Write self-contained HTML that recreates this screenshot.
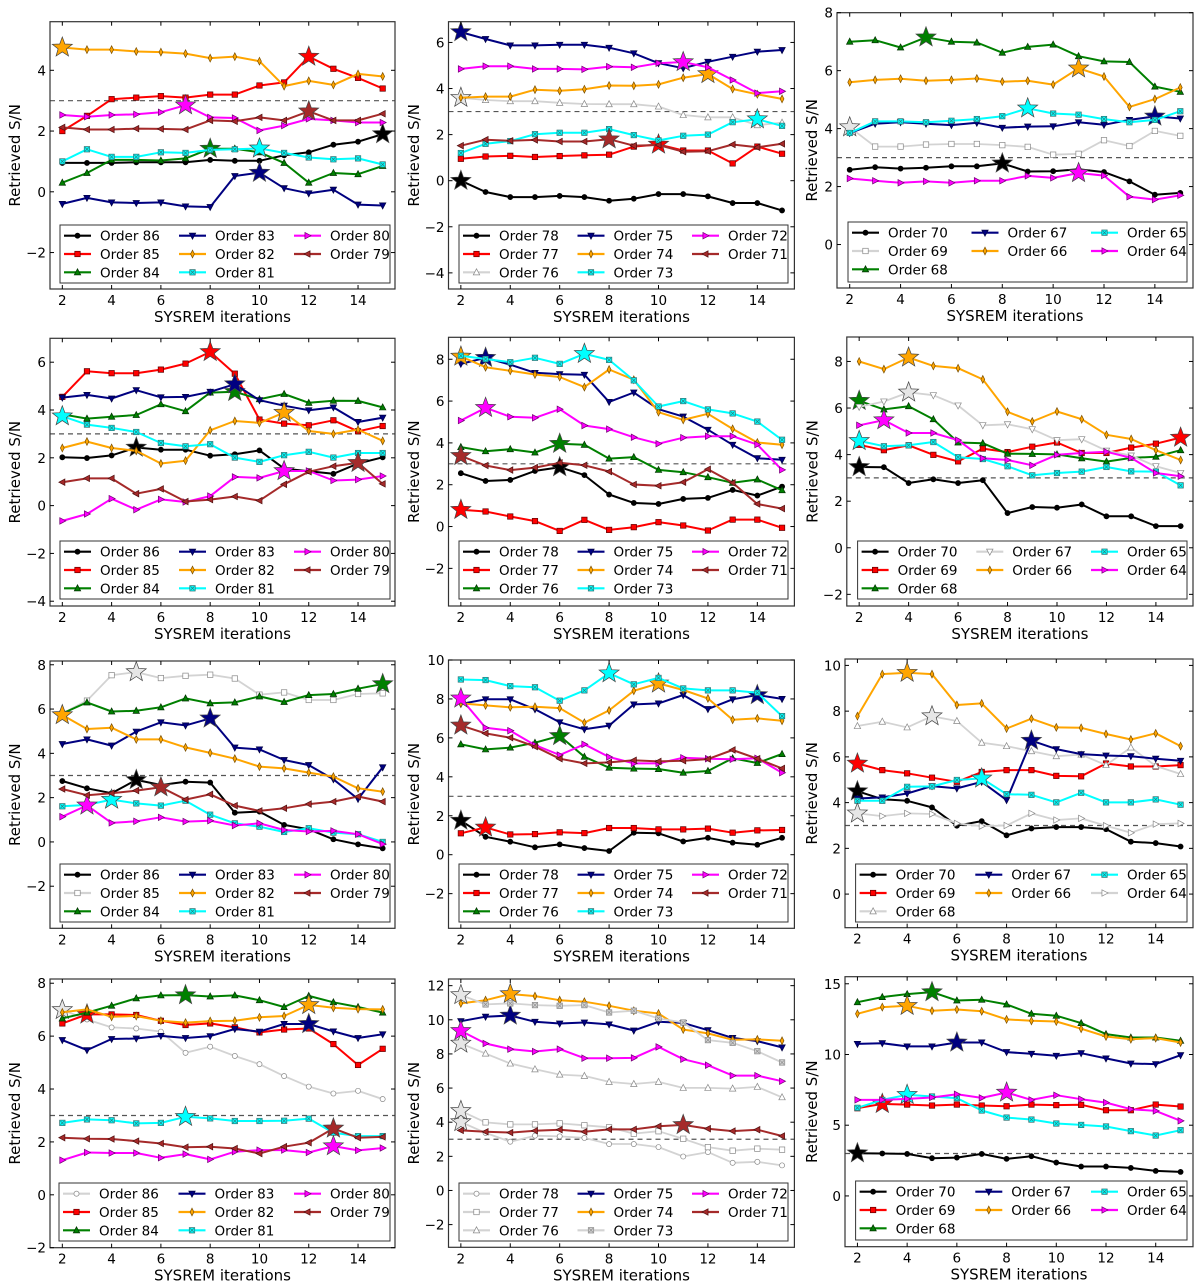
<!DOCTYPE html>
<html><head><meta charset="utf-8">
<style>
html,body{margin:0;padding:0;background:#fff;}
svg{display:block;font-family:"DejaVu Sans","Liberation Sans",sans-serif;}
</style></head>
<body>
<svg id="fig" width="1200" height="1284" viewBox="0 0 1200 1284" xmlns="http://www.w3.org/2000/svg"></svg>
<script>
// ---- Data (x = SYSREM iterations 2..15) ----
const iterations = [2,3,4,5,6,7,8,9,10,11,12,13,14,15];

// Panel 1
const p1_labels = ['Order 86','Order 85','Order 84','Order 83','Order 82','Order 81','Order 80','Order 79'];
const p1_o86 = [0.95,0.95,0.95,0.97,0.97,0.97,1.05,1.02,1.02,1.2,1.3,1.55,1.65,1.9];
const p1_o85 = [2.0,2.5,3.05,3.1,3.15,3.1,3.2,3.2,3.5,3.6,4.45,4.05,3.75,3.4];
const p1_o84 = [0.3,0.62,1.05,1.05,1.03,1.1,1.42,1.42,1.3,0.95,0.3,0.62,0.58,0.85];
const p1_o83 = [-0.4,-0.2,-0.35,-0.37,-0.35,-0.48,-0.5,0.52,0.63,0.12,-0.05,0.07,-0.42,-0.45];
const p1_o82 = [4.75,4.68,4.68,4.62,4.6,4.55,4.4,4.45,4.3,3.48,3.65,3.52,3.88,3.8];
const p1_o81 = [1.0,1.4,1.15,1.15,1.3,1.28,1.38,1.4,1.43,1.28,1.13,1.07,1.1,0.9];
const p1_o80 = [2.53,2.47,2.53,2.55,2.62,2.85,2.45,2.43,2.02,2.18,2.4,2.35,2.28,2.28];
const p1_o79 = [2.12,2.05,2.05,2.08,2.07,2.05,2.35,2.32,2.45,2.35,2.65,2.35,2.35,2.57];
const p1_star = [15,12,8,10,2,10,7,12];

// Panel 2
const p2_labels = ['Order 78','Order 77','Order 76','Order 75','Order 74','Order 73','Order 72','Order 71'];
const p2_o78 = [0,-0.49,-0.71,-0.71,-0.66,-0.71,-0.87,-0.78,-0.58,-0.58,-0.68,-0.97,-0.97,-1.29];
const p2_o77 = [0.95,1.05,1.08,1.03,1.07,1.1,1.13,1.48,1.57,1.31,1.31,0.75,1.48,1.17];
const p2_o76 = [3.6,3.5,3.45,3.45,3.38,3.33,3.32,3.32,3.22,2.85,2.75,2.75,2.41,2.52];
const p2_o75 = [6.45,6.15,5.87,5.87,5.9,5.9,5.77,5.53,5.1,4.88,5.16,5.38,5.6,5.67];
const p2_o74 = [3.6,3.65,3.65,3.95,3.9,3.97,4.13,4.12,4.18,4.47,4.63,3.98,3.75,3.55];
const p2_o73 = [1.2,1.6,1.72,2.02,2.08,2.08,2.24,1.98,1.75,1.95,2.0,2.54,2.67,2.38];
const p2_o72 = [4.85,4.97,4.97,4.85,4.85,4.83,4.95,4.92,5.1,5.15,4.92,4.37,3.8,3.88];
const p2_o71 = [1.52,1.78,1.73,1.77,1.7,1.7,1.8,1.52,1.55,1.26,1.28,1.57,1.45,1.6];
const p2_star = [2,10,2,2,12,14,11,8];

// Panel 3
const p3_labels = ['Order 70','Order 69','Order 68','Order 67','Order 66','Order 65','Order 64'];
const p3_o70 = [2.58,2.67,2.62,2.65,2.7,2.7,2.8,2.52,2.53,2.6,2.5,2.18,1.72,1.78];
const p3_o69 = [4.05,3.38,3.38,3.45,3.47,3.47,3.43,3.37,3.1,3.13,3.6,3.4,3.92,3.75];
const p3_o68 = [7.0,7.05,6.8,7.15,7.0,6.97,6.62,6.82,6.9,6.5,6.32,6.3,5.45,5.27];
const p3_o67 = [3.85,4.17,4.22,4.17,4.12,4.2,4.03,4.07,4.08,4.22,4.13,4.3,4.42,4.35];
const p3_o66 = [5.6,5.68,5.72,5.65,5.68,5.73,5.62,5.65,5.52,6.08,5.8,4.75,5.02,5.42];
const p3_o65 = [3.85,4.25,4.25,4.22,4.27,4.33,4.43,4.7,4.52,4.48,4.33,4.22,4.3,4.6];
const p3_o64 = [2.28,2.2,2.13,2.18,2.13,2.2,2.2,2.37,2.3,2.47,2.38,1.65,1.55,1.7];
const p3_star = [8,2,5,14,11,9,11];

// Panel 4
const p4_labels = ['Order 86','Order 85','Order 84','Order 83','Order 82','Order 81','Order 80','Order 79'];
const p4_o86 = [2.02,1.99,2.1,2.43,2.34,2.34,2.09,2.15,2.31,1.55,1.44,1.33,1.76,2.02];
const p4_o85 = [4.55,5.62,5.54,5.54,5.69,5.94,6.43,5.52,3.6,3.43,3.36,3.57,3.11,3.33];
const p4_o84 = [3.82,3.64,3.72,3.79,4.24,3.95,4.73,4.76,4.45,4.67,4.3,4.39,4.38,4.11];
const p4_o83 = [4.52,4.63,4.48,4.83,4.53,4.55,4.76,5.08,4.41,4.18,3.99,4.11,3.5,3.68];
const p4_o82 = [2.41,2.68,2.41,2.29,1.76,1.88,3.15,3.54,3.46,3.89,3.12,3.0,3.18,2.71];
const p4_o81 = [3.74,3.39,3.25,3.08,2.62,2.48,2.57,2.01,1.83,2.11,2.25,2.01,2.2,2.2];
const p4_o80 = [-0.64,-0.35,0.29,-0.17,0.26,0.15,0.4,1.2,1.16,1.45,1.45,1.05,1.09,1.24];
const p4_o79 = [0.98,1.14,1.14,0.5,0.7,0.17,0.25,0.38,0.21,0.89,1.42,1.65,1.79,0.91];
const p4_star = [5,8,9,9,11,2,11,14];

// Panel 5
const p5_labels = ['Order 78','Order 77','Order 76','Order 75','Order 74','Order 73','Order 72','Order 71'];
const p5_o78 = [2.55,2.18,2.23,2.66,2.84,2.46,1.53,1.13,1.08,1.32,1.37,1.75,1.48,1.91];
const p5_o77 = [0.8,0.72,0.48,0.26,-0.21,0.32,-0.16,-0.03,0.21,0.05,-0.19,0.33,0.33,-0.06];
const p5_o76 = [3.8,3.6,3.7,3.54,3.96,3.91,3.25,3.32,2.71,2.6,2.36,2.09,2.25,1.74];
const p5_o75 = [7.78,8.07,7.74,7.35,7.29,7.26,5.96,6.41,5.61,5.26,4.63,3.91,3.27,3.19];
const p5_o74 = [8.13,7.62,7.45,7.27,7.15,6.67,7.51,7.02,5.47,5.1,5.39,4.67,4.02,3.91];
const p5_o73 = [8.17,8.01,7.86,8.07,7.78,8.26,7.97,6.99,5.74,6.0,5.6,5.41,5.02,4.15];
const p5_o72 = [5.07,5.68,5.25,5.2,5.61,4.83,4.66,4.27,3.96,4.25,4.32,4.32,3.92,2.71];
const p5_o71 = [3.38,2.92,2.7,2.82,3.05,2.93,2.63,2.01,1.95,2.12,2.74,2.09,1.08,0.86];
const p5_star = [6,2,6,3,2,7,3,2];

// Panel 6
const p6_labels = ['Order 70','Order 69','Order 68','Order 67','Order 66','Order 65','Order 64'];
const p6_o70 = [3.47,3.46,2.78,2.94,2.78,2.9,1.49,1.75,1.72,1.86,1.35,1.35,0.93,0.93];
const p6_o69 = [4.42,4.19,4.4,3.99,3.71,4.26,4.11,4.34,4.52,4.07,4.07,4.3,4.47,4.73];
const p6_o68 = [6.31,5.94,6.08,5.52,4.52,4.49,4.04,4.03,4.01,3.84,3.7,3.86,3.91,4.19];
const p6_o67 = [6.05,6.28,6.67,6.55,6.11,5.26,5.3,5.09,4.62,4.66,4.17,3.96,3.5,3.21];
const p6_o66 = [8.0,7.67,8.17,7.81,7.71,7.23,5.84,5.42,5.85,5.52,4.85,4.67,4.19,3.77];
const p6_o65 = [4.59,4.36,4.4,4.54,3.89,3.81,3.5,3.11,3.21,3.27,3.47,3.28,3.27,2.68];
const p6_o64 = [5.26,5.48,4.93,4.93,4.62,3.84,3.77,3.54,3.99,4.07,4.12,3.86,3.21,3.07];
const p6_star = [2,15,2,4,4,2,3];

// Panel 7
const p7_labels = ['Order 86','Order 85','Order 84','Order 83','Order 82','Order 81','Order 80','Order 79'];
const p7_o86 = [2.75,2.42,2.2,2.8,2.57,2.72,2.68,1.32,1.37,0.77,0.57,0.12,-0.11,-0.29];
const p7_o85 = [5.8,6.38,7.53,7.67,7.4,7.5,7.55,7.38,6.65,6.75,6.41,6.41,6.68,6.71];
const p7_o84 = [5.8,6.3,5.89,5.92,6.08,6.48,6.26,6.3,6.57,6.32,6.63,6.68,6.92,7.13];
const p7_o83 = [4.42,4.63,4.35,4.98,5.4,5.26,5.58,4.26,4.18,3.7,3.47,2.83,1.94,3.37];
const p7_o82 = [5.73,5.1,5.16,4.63,4.63,4.27,4.02,3.76,3.4,3.32,3.13,2.95,2.42,2.27];
const p7_o81 = [1.61,1.67,1.91,1.74,1.64,1.86,1.23,0.84,0.69,0.45,0.62,0.42,0.35,0.0];
const p7_o80 = [1.14,1.65,0.86,0.93,1.11,0.92,0.96,0.74,0.84,0.54,0.47,0.5,0.35,-0.1];
const p7_o79 = [2.39,2.11,2.2,2.32,2.47,1.91,2.15,1.64,1.4,1.52,1.71,1.82,2.05,1.82];
const p7_star = [5,5,15,8,2,4,3,6];

// Panel 8
const p8_labels = ['Order 78','Order 77','Order 76','Order 75','Order 74','Order 73','Order 72','Order 71'];
const p8_o78 = [1.75,0.92,0.67,0.38,0.53,0.34,0.19,1.13,1.1,0.68,0.87,0.62,0.51,0.87];
const p8_o77 = [1.1,1.4,1.04,1.06,1.15,1.11,1.37,1.37,1.3,1.3,1.34,1.13,1.25,1.27];
const p8_o76 = [5.67,5.41,5.5,5.75,6.1,5.03,4.47,4.42,4.4,4.21,4.3,4.95,4.71,5.17];
const p8_o75 = [7.74,7.98,7.98,7.47,6.8,6.44,6.63,7.72,7.77,8.2,7.48,7.98,8.2,8.0];
const p8_o74 = [7.77,7.67,7.57,7.6,7.53,6.78,7.41,8.42,8.8,8.46,8.03,6.93,7.0,6.88];
const p8_o73 = [9.0,8.97,8.66,8.6,7.91,8.44,9.32,8.75,9.08,8.54,8.44,8.44,8.32,7.12];
const p8_o72 = [8.03,6.52,6.37,5.63,5.12,5.67,5.02,4.69,4.69,4.98,4.93,4.9,4.95,4.21];
const p8_o71 = [6.64,6.23,6.01,5.55,4.93,4.69,4.74,4.85,4.79,4.83,4.91,5.38,4.93,4.43];
const p8_star = [2,3,6,14,10,8,2,2];

// Panel 9
const p9_labels = ['Order 70','Order 69','Order 68','Order 67','Order 66','Order 65','Order 64'];
const p9_o70 = [4.5,4.15,4.08,3.79,2.99,3.19,2.57,2.87,2.93,2.93,2.84,2.29,2.23,2.08];
const p9_o69 = [5.71,5.42,5.28,5.09,4.91,5.34,5.42,5.42,5.17,5.15,5.71,5.58,5.58,5.64];
const p9_o68 = [7.35,7.54,7.29,7.78,7.57,6.62,6.47,6.25,6.03,6.1,5.64,6.41,5.6,5.25];
const p9_o67 = [4.18,4.23,4.4,4.72,4.62,4.91,4.11,6.71,6.34,6.12,6.06,6.03,5.92,5.83];
const p9_o66 = [7.78,9.62,9.68,9.62,8.27,8.34,7.24,7.67,7.29,7.27,7.0,6.76,7.03,6.47];
const p9_o65 = [4.08,4.08,4.69,4.71,4.99,5.06,4.37,4.34,4.01,4.43,4.01,4.01,4.14,3.91];
const p9_o64 = [3.53,3.41,3.53,3.5,3.09,2.97,3.0,3.53,3.24,3.31,2.99,2.68,3.06,3.09];
const p9_star = [2,2,5,9,4,7,2];

// Panel 10
const p10_labels = ['Order 86','Order 85','Order 84','Order 83','Order 82','Order 81','Order 80','Order 79'];
const p10_o86 = [6.99,6.63,6.33,6.29,6.17,5.37,5.6,5.25,4.94,4.49,4.09,3.83,3.93,3.62];
const p10_o85 = [6.48,6.82,6.82,6.8,6.58,6.42,6.48,6.33,6.14,6.25,6.29,5.7,4.91,5.52];
const p10_o84 = [6.67,6.89,7.15,7.43,7.54,7.55,7.5,7.54,7.36,7.1,7.52,7.28,7.1,6.89];
const p10_o83 = [5.85,5.47,5.89,5.91,6.01,5.93,6.0,6.27,6.17,6.46,6.46,6.18,5.93,6.07];
const p10_o82 = [6.9,7.01,6.73,6.76,6.58,6.51,6.57,6.58,6.71,6.76,7.18,7.07,7.02,7.01];
const p10_o81 = [2.72,2.85,2.82,2.7,2.72,2.95,2.89,2.79,2.79,2.8,2.88,2.35,2.22,2.22];
const p10_o80 = [1.31,1.6,1.58,1.58,1.4,1.54,1.34,1.63,1.69,1.69,1.6,1.84,1.68,1.77];
const p10_o79 = [2.16,2.12,2.11,2.03,1.94,1.8,1.82,1.75,1.56,1.82,1.97,2.51,2.16,2.19];
const p10_star = [2,3,7,12,12,7,13,13];

// Panel 11
const p11_labels = ['Order 78','Order 77','Order 76','Order 75','Order 74','Order 73','Order 72','Order 71'];
const p11_o78 = [4.01,3.37,2.86,3.21,3.17,3.08,2.72,2.72,2.54,1.99,2.25,1.62,1.68,1.47];
const p11_o77 = [4.66,3.99,3.87,3.87,3.93,3.82,3.7,3.33,3.47,3.03,2.54,2.33,2.45,2.39];
const p11_o76 = [8.61,8.02,7.44,7.1,6.79,6.71,6.36,6.24,6.36,6.01,6.01,5.97,6.07,5.46];
const p11_o75 = [9.92,10.18,10.25,9.88,9.78,9.84,9.73,9.37,9.88,9.82,9.39,8.94,8.75,8.38];
const p11_o74 = [10.96,11.15,11.51,11.39,11.15,11.06,10.82,10.53,10.37,9.43,9.2,8.83,8.85,8.77];
const p11_o73 = [11.45,10.9,10.96,10.86,10.82,10.86,10.43,10.53,10.08,9.84,8.81,8.65,8.16,7.5];
const p11_o72 = [9.35,8.61,8.28,8.14,8.28,7.75,7.75,7.77,8.41,7.69,7.34,6.73,6.73,6.4];
const p11_o71 = [3.52,3.44,3.39,3.5,3.56,3.44,3.58,3.58,3.76,3.84,3.62,3.48,3.56,3.19];
const p11_star = [2,2,2,4,4,2,2,11];

// Panel 12
const p12_labels = ['Order 70','Order 69','Order 68','Order 67','Order 66','Order 65','Order 64'];
const p12_o70 = [3.02,3.0,2.97,2.67,2.71,2.97,2.62,2.81,2.36,2.08,2.08,1.98,1.77,1.7];
const p12_o69 = [6.2,6.51,6.46,6.39,6.46,6.39,6.34,6.46,6.42,6.44,6.06,6.06,6.46,6.32];
const p12_o68 = [13.7,14.06,14.27,14.41,13.82,13.87,13.54,12.88,12.74,12.22,11.44,11.2,11.2,10.97];
const p12_o67 = [10.75,10.8,10.57,10.57,10.85,10.85,10.17,10.05,9.91,10.09,9.72,9.36,9.32,9.95];
const p12_o66 = [12.88,13.35,13.44,13.09,13.18,13.06,12.48,12.38,12.33,11.82,11.27,11.08,11.16,10.85];
const p12_o65 = [6.23,6.79,7.15,7.03,6.92,6.04,5.54,5.4,5.12,5.02,4.91,4.58,4.27,4.65];
const p12_o64 = [6.79,6.79,6.86,6.96,7.19,6.93,7.31,6.79,7.12,6.84,6.6,6.13,6.01,5.31];
const p12_star = [2,3,5,6,4,4,8];

const xTicks = [2,4,6,8,10,12,14];
const threshold = 3;

// ---- Styles ----
const ST = {
  k:{c:'#000000',m:'o',f:'#000000',e:'#000000'},
  r:{c:'#ff0000',m:'s',f:'#ff0000',e:'#600000'},
  g:{c:'#008000',m:'^',f:'#008000',e:'#003000'},
  n:{c:'#000080',m:'v',f:'#000080',e:'#000040'},
  o:{c:'#ffa500',m:'d',f:'#ffa500',e:'#7a4f00'},
  c:{c:'#00ffff',m:'sx',f:'#00ffff',e:'#307070'},
  m:{c:'#ff00ff',m:'>',f:'#ff00ff',e:'#700070'},
  b:{c:'#a52a2a',m:'<',f:'#a52a2a',e:'#501010'},
  go:{c:'#d3d3d3',m:'o',f:'#ffffff',e:'#888888',gray:1},
  gs:{c:'#d3d3d3',m:'s',f:'#ffffff',e:'#888888',gray:1},
  gt:{c:'#d3d3d3',m:'^',f:'#ffffff',e:'#888888',gray:1},
  gv:{c:'#d3d3d3',m:'v',f:'#ffffff',e:'#888888',gray:1},
  gr:{c:'#d3d3d3',m:'>',f:'#ffffff',e:'#888888',gray:1},
  gx:{c:'#d3d3d3',m:'sx',f:'#d3d3d3',e:'#888888',gray:1}
};

const panels = [
 {id:1,box:[50,21.7,395,289],yl:[-3.2,5.6],yt:[-2,0,2,4],leg:[60,225,390,283],ylo:35,
  labels:p1_labels,data:[p1_o86,p1_o85,p1_o84,p1_o83,p1_o82,p1_o81,p1_o80,p1_o79],stars:p1_star,sty:['k','r','g','n','o','c','m','b']},
 {id:2,box:[448.5,21.7,794.4,289],yl:[-4.7,6.9],yt:[-4,-2,0,2,4,6],leg:[459,225,788,283],ylo:34.5,
  labels:p2_labels,data:[p2_o78,p2_o77,p2_o76,p2_o75,p2_o74,p2_o73,p2_o72,p2_o71],stars:p2_star,sty:['k','r','gt','n','o','c','m','b']},
 {id:3,box:[837,12.7,1193,288],yl:[-1.5,8],yt:[0,2,4,6,8],leg:[848,222,1187,282],ylo:25,
  labels:p3_labels,data:[p3_o70,p3_o69,p3_o68,p3_o67,p3_o66,p3_o65,p3_o64],stars:p3_star,sty:['k','gs','g','n','o','c','m']},
 {id:4,box:[50,338.3,395,606],yl:[-4.2,7.0],yt:[-4,-2,0,2,4,6],leg:[60,541,390,599],ylo:35,
  labels:p4_labels,data:[p4_o86,p4_o85,p4_o84,p4_o83,p4_o82,p4_o81,p4_o80,p4_o79],stars:p4_star,sty:['k','r','g','n','o','c','m','b']},
 {id:5,box:[448.5,337.3,794.4,606],yl:[-3.8,9.05],yt:[-2,0,2,4,6,8],leg:[459,541,788,599],ylo:34.5,
  labels:p5_labels,data:[p5_o78,p5_o77,p5_o76,p5_o75,p5_o74,p5_o73,p5_o72,p5_o71],stars:p5_star,sty:['k','r','g','n','o','c','m','b']},
 {id:6,box:[846.8,337,1193,606],yl:[-2.5,9.05],yt:[-2,0,2,4,6,8],leg:[857.6,541,1187,599],ylo:34.5,
  labels:p6_labels,data:[p6_o70,p6_o69,p6_o68,p6_o67,p6_o66,p6_o65,p6_o64],stars:p6_star,sty:['k','r','g','gv','o','c','m']},
 {id:7,box:[50,661,395,928.3],yl:[-3.9,8.17],yt:[-2,0,2,4,6,8],leg:[60,864,390,922],ylo:35,
  labels:p7_labels,data:[p7_o86,p7_o85,p7_o84,p7_o83,p7_o82,p7_o81,p7_o80,p7_o79],stars:p7_star,sty:['k','gs','g','n','o','c','m','b']},
 {id:8,box:[448.5,660,794.4,928.3],yl:[-3.78,10],yt:[-2,0,2,4,6,8,10],leg:[459,864,788,922],ylo:34.5,
  labels:p8_labels,data:[p8_o78,p8_o77,p8_o76,p8_o75,p8_o74,p8_o73,p8_o72,p8_o71],stars:p8_star,sty:['k','r','g','n','o','c','m','b']},
 {id:9,box:[845,659,1193,927.7],yl:[-1.47,10.28],yt:[0,2,4,6,8,10],leg:[855.6,864,1187,922],ylo:33,
  labels:p9_labels,data:[p9_o70,p9_o69,p9_o68,p9_o67,p9_o66,p9_o65,p9_o64],stars:p9_star,sty:['k','r','gt','n','o','c','gr']},
 {id:10,box:[50,979,395,1247.7],yl:[-2,8.16],yt:[-2,0,2,4,6,8],leg:[59,1183,390,1241],ylo:35,
  labels:p10_labels,data:[p10_o86,p10_o85,p10_o84,p10_o83,p10_o82,p10_o81,p10_o80,p10_o79],stars:p10_star,sty:['go','r','g','n','o','c','m','b']},
 {id:11,box:[448.5,979,794.4,1247.3],yl:[-3.33,12.39],yt:[-2,0,2,4,6,8,10,12],leg:[459,1183,788,1241],ylo:34.5,
  labels:p11_labels,data:[p11_o78,p11_o77,p11_o76,p11_o75,p11_o74,p11_o73,p11_o72,p11_o71],stars:p11_star,sty:['go','gs','gt','n','o','gx','m','b']},
 {id:12,box:[845,976.7,1193,1246.7],yl:[-3.59,15.5],yt:[0,5,10,15],leg:[855.6,1181,1187,1240],ylo:33,
  labels:p12_labels,data:[p12_o70,p12_o69,p12_o68,p12_o67,p12_o66,p12_o65,p12_o64],stars:p12_star,sty:['k','r','g','n','o','c','m']}
];

const NS='http://www.w3.org/2000/svg';
const svg=document.getElementById('fig');
function el(tag,attrs,parent){const e=document.createElementNS(NS,tag);for(const k in attrs)e.setAttribute(k,attrs[k]);(parent||svg).appendChild(e);return e;}
const fmt=v=>(v<0?'\u2212':'')+Math.abs(v);

function marker(g,shape,x,y,fill,edge,s){
  let e;
  if(shape==='o'){e=el('circle',{cx:x,cy:y,r:s*0.8,fill:fill,stroke:edge,'stroke-width':0.7},g);}
  else if(shape==='s'||shape==='sx'){
    e=el('rect',{x:x-s*0.85,y:y-s*0.85,width:s*1.7,height:s*1.7,fill:fill,stroke:edge,'stroke-width':0.7},g);
    if(shape==='sx'){el('path',{d:`M${x-s*0.6},${y-s*0.6}L${x+s*0.6},${y+s*0.6}M${x-s*0.6},${y+s*0.6}L${x+s*0.6},${y-s*0.6}`,stroke:edge,'stroke-width':0.6},g);}
  }
  else if(shape==='d'){e=el('polygon',{points:`${x},${y-s*1.2} ${x+s*0.6},${y} ${x},${y+s*1.2} ${x-s*0.6},${y}`,fill:fill,stroke:edge,'stroke-width':0.7},g);}
  else {
    let p;
    if(shape==='^')p=[[0,-1.1],[1,0.8],[-1,0.8]];
    else if(shape==='v')p=[[0,1.1],[1,-0.8],[-1,-0.8]];
    else if(shape==='>')p=[[1.1,0],[-0.8,1],[-0.8,-1]];
    else p=[[-1.1,0],[0.8,1],[0.8,-1]];
    e=el('polygon',{points:p.map(q=>(x+q[0]*s)+','+(y+q[1]*s)).join(' '),fill:fill,stroke:edge,'stroke-width':0.7},g);
  }
  return e;
}
function star(g,x,y,fill,R){
  const pts=[];for(let i=0;i<10;i++){const r=i%2?R*0.42:R;const a=-Math.PI/2+i*Math.PI/5;pts.push((x+r*Math.cos(a)).toFixed(1)+','+(y+r*Math.sin(a)).toFixed(1));}
  return el('polygon',{points:pts.join(' '),fill:fill,stroke:'#444','stroke-width':0.7},g);
}

panels.forEach(P=>{
  const [x0,y0,x1,y1]=P.box;
  const xl=[1.5,15.5];
  const X=v=>x0+(v-xl[0])/(xl[1]-xl[0])*(x1-x0);
  const Y=v=>y1-(v-P.yl[0])/(P.yl[1]-P.yl[0])*(y1-y0);
  const g=el('g',{});
  
  
  const clipId='clip'+P.id;
  const cp=el('clipPath',{id:clipId},g);el('rect',{x:x0,y:y0,width:x1-x0,height:y1-y0},cp);
  // threshold line
  const th=el('line',{x1:x0,x2:x1,y1:Y(threshold),y2:Y(threshold),stroke:'#555','stroke-width':1.2,'stroke-dasharray':'5,4'},g);
  
  
  // series
  const sg=el('g',{'clip-path':`url(#${clipId})`},g);
  P.data.forEach((vals,si)=>{
    const st=ST[P.sty[si]];
    const s=el('g',{},sg);
    
    
    const d=vals.map((v,i)=>(i?'L':'M')+X(iterations[i]).toFixed(1)+','+Y(v).toFixed(1)).join('');
    el('path',{d:d,fill:'none',stroke:st.c,'stroke-width':st.gray?1.8:2,'stroke-linejoin':'round'},s);
    vals.forEach((v,i)=>{
      if(iterations[i]===P.stars[si])return;
      const m=marker(s,st.m,X(iterations[i]),Y(v),st.f,st.e,3.2);
      
      
    });
    const si2=iterations.indexOf(P.stars[si]);
    if(si2>=0){
      const sf=st.gray?'#e6e6e6':st.c;
      const stn=star(s,X(iterations[si2]),Y(vals[si2]),sf,10.5);
      
      
    }
  });
  // frame
  const fr=el('rect',{x:x0,y:y0,width:x1-x0,height:y1-y0,fill:'none',stroke:'#333','stroke-width':1.2},g);
  
  
  // x ticks
  xTicks.forEach(t=>{
    const x=X(t);
    el('line',{x1:x,x2:x,y1:y1,y2:y1-4,stroke:'#000','stroke-width':1},g);
    el('line',{x1:x,x2:x,y1:y0,y2:y0+4,stroke:'#000','stroke-width':1},g);
    const tl=el('text',{x:x,y:y1+16,'font-size':13.5,'text-anchor':'middle',fill:'#000'},g);
    tl.textContent=fmt(t);
    
    
  });
  P.yt.forEach(t=>{
    const y=Y(t);
    el('line',{x1:x0,x2:x0+4,y1:y,y2:y,stroke:'#000','stroke-width':1},g);
    el('line',{x1:x1,x2:x1-4,y1:y,y2:y,stroke:'#000','stroke-width':1},g);
    const tl=el('text',{x:x0-4,y:y+5,'font-size':13.5,'text-anchor':'end',fill:'#000'},g);
    tl.textContent=fmt(t);
    
    
  });
  const xt=el('text',{x:(x0+x1)/2,y:y1+33,'font-size':15,'text-anchor':'middle',fill:'#000'},g);
  xt.textContent='SYSREM iterations';
  
  
  const yc=(y0+y1)/2, yx=x0-P.ylo;
  const yt=el('text',{x:yx,y:yc,'font-size':15,'text-anchor':'middle','dominant-baseline':'central',transform:`rotate(-90 ${yx} ${yc})`,fill:'#000'},g);
  yt.textContent='Retrieved S/N';
  
  
  // legend
  const [lx0,ly0,lx1,ly1]=P.leg;
  const lg=el('g',{},g);
  
  
  el('rect',{x:lx0,y:ly0,width:lx1-lx0,height:ly1-ly0,fill:'#fff',stroke:'#333','stroke-width':1},lg);
  const colStep=(lx1-lx0-100)/2;
  const rows=Math.ceil(P.labels.length/3);
  let counts=[0,0,0];const n=P.labels.length;
  // matplotlib column fill
  const base=Math.floor(n/3),extra=n%3;for(let c=0;c<3;c++)counts[c]=base+(c<extra?1:0);
  let idx=0;
  for(let c=0;c<3;c++){for(let r=0;r<counts[c];r++){
    const st=ST[P.sty[idx]];
    const cy=ly0+10.7+r*18.3, cx=lx0+4+c*colStep;
    const le=el('g',{},lg);
    
    
    el('line',{x1:cx,x2:cx+27,y1:cy,y2:cy,stroke:st.c,'stroke-width':2.2},le);
    marker(le,st.m,cx+13.5,cy,st.f,st.e,3.2);
    const tx=el('text',{x:cx+36,y:cy+5,'font-size':13.5,fill:'#000'},le);
    tx.textContent=P.labels[idx];
    idx++;
  }}
});
</script>
</body></html>
